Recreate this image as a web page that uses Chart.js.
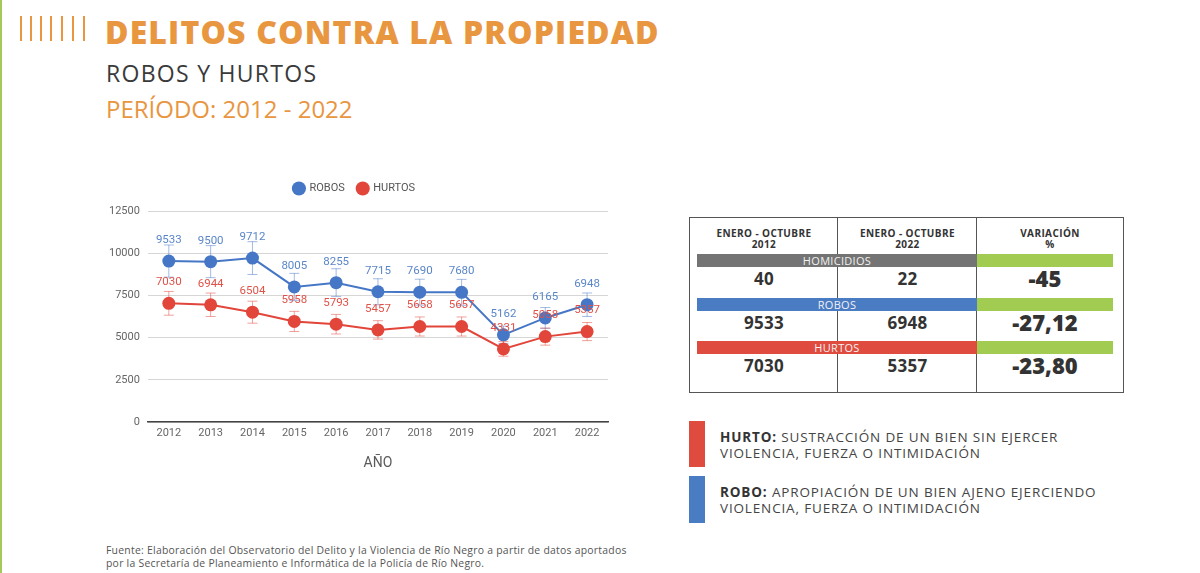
<!DOCTYPE html>
<html>
<head>
<meta charset="utf-8">
<script src="https://cdn.jsdelivr.net/npm/chart.js@4.4.0/dist/chart.umd.min.js"></script>
<style>
  html, body { margin: 0; padding: 0; background: #fff; }
  body { width: 1200px; height: 573px; position: relative; overflow: hidden; font-family: "Open Sans", sans-serif; }
  .abs { position: absolute; white-space: nowrap; }
  .edge { left: 0; top: 0; width: 2px; height: 573px; background: #a4c95a; }
  .stripe { top: 16px; width: 2px; height: 25px; background: #e8963f; }
  #title { left: 105px; top: 10px; font-size: 32px; font-weight: 800; color: #e8963f; line-height: 44px; }
  #sub { left: 106px; top: 58px; font-size: 23px; font-weight: 400; color: #3a3a3a; line-height: 30px; }
  #period { left: 106px; top: 93px; font-size: 24px; font-weight: 400; color: #e8963f; line-height: 32px; }
  #chartBox { left: 100px; top: 170px; width: 560px; height: 310px; }
  #table { left: 689px; top: 217px; width: 433px; height: 174px; border: 1px solid #555; }
  .vline { width: 1px; background: #555; }
  .th { font-size: 10px; font-weight: 700; color: #333; text-align: center; line-height: 11px; letter-spacing: 0.4px; }
  .bar { height: 13px; color: #f1f1f1; font-size: 11px; text-align: center; line-height: 13px; letter-spacing: 0.3px; }
  .val { font-size: 17px; font-weight: 700; color: #333; text-align: center; line-height: 22px; letter-spacing: 0.3px; }
  .var { font-size: 22px; font-weight: 800; color: #333; text-align: center; line-height: 26px; }
  .def { left: 720px; font-size: 13.5px; color: #444; line-height: 16px; letter-spacing: 0.85px; }
  .def b { color: #333; }
  .blk { left: 689px; width: 16px; }
  #foot { left: 106px; top: 544px; font-size: 10.4px; color: #555; line-height: 12.5px; letter-spacing: 0.26px; }
</style>
</head>
<body>
<div class="abs edge"></div>
<div id="stripes"></div>
<div id="title" class="abs">DELITOS CONTRA LA PROPIEDAD</div>
<div id="sub" class="abs">ROBOS Y HURTOS</div>
<div id="period" class="abs">PERÍODO: 2012 - 2022</div>

<div id="chartBox" class="abs"><canvas id="chart"></canvas></div>

<div id="table" class="abs"></div>

<div class="abs blk" style="top:421px;height:46px;background:#e04b40;"></div>
<div class="abs blk" style="top:476px;height:47px;background:#4a7cc4;"></div>
<div class="abs def" style="top:429px;"><b>HURTO:</b> SUSTRACCIÓN DE UN BIEN SIN EJERCER<br>VIOLENCIA, FUERZA O INTIMIDACIÓN</div>
<div class="abs def" style="top:484px;"><b>ROBO:</b> APROPIACIÓN DE UN BIEN AJENO EJERCIENDO<br>VIOLENCIA, FUERZA O INTIMIDACIÓN</div>

<div id="foot" class="abs">Fuente: Elaboración del Observatorio del Delito y la Violencia de Río Negro a partir de datos aportados<br>por la Secretaría de Planeamiento e Informática de la Policía de Río Negro.</div>

<script>
// chart data
var years = ['2012', '2013', '2014', '2015', '2016', '2017', '2018', '2019', '2020', '2021', '2022'];
var robos = [9533, 9500, 9712, 8005, 8255, 7715, 7690, 7680, 5162, 6165, 6948];
var hurtos = [7030, 6944, 6504, 5958, 5793, 5457, 5658, 5657, 4331, 5058, 5357];
var yTicks = [0, 2500, 5000, 7500, 10000, 12500];
var errorPct = 0.10; // percentage error bars

// comparison table
var tableHeads = ['ENERO - OCTUBRE\n2012', 'ENERO - OCTUBRE\n2022', 'VARIACIÓN\n%'];
var tableRows = ['HOMICIDIOS', 'ROBOS', 'HURTOS'];
var tableRowColors = ['#747474', '#4a7cc4', '#e04b40'];
var vals2012 = ['40', '9533', '7030'];
var vals2022 = ['22', '6948', '5357'];
var variacion = ['-45', '-27,12', '-23,80'];

var blue = '#4577c6';
var red = '#e2453a';

// stripes next to the title
var stripeX = [20, 30, 40, 50, 61, 72, 83];
stripeX.forEach(function (x) {
  var d = document.createElement('div');
  d.className = 'abs stripe';
  d.style.left = x + 'px';
  document.body.appendChild(d);
});

// build the table
var tb = document.getElementById('table');
function add(cls, css, html) {
  var d = document.createElement('div');
  d.className = 'abs ' + cls;
  d.style.cssText = css;
  d.innerHTML = html;
  tb.appendChild(d);
  return d;
}
var colL = [0, 148, 287];
var colW = [148, 139, 146];
add('vline', 'left:147px;top:0;height:174px;', '');
add('vline', 'left:286px;top:0;height:174px;', '');
tableHeads.forEach(function (h, i) {
  add('th', 'left:' + colL[i] + 'px;top:10px;width:' + colW[i] + 'px;', h.replace('\n', '<br>'));
});
var barTop = [36, 80, 123];
tableRows.forEach(function (r, i) {
  add('bar', 'left:7px;top:' + barTop[i] + 'px;width:280px;background:' + tableRowColors[i] + ';', r);
  add('bar', 'left:287px;top:' + barTop[i] + 'px;width:136px;background:#a2cb52;', '');
  var vt = barTop[i] + 14;
  add('val', 'left:0;top:' + vt + 'px;width:148px;', vals2012[i]);
  add('val', 'left:148px;top:' + vt + 'px;width:139px;', vals2022[i]);
  add('var', 'left:287px;top:' + (vt - 3) + 'px;width:136px;', variacion[i]);
});

// stretch text to match widths
function fit(id, w) {
  var el = document.getElementById(id);
  var n = el.textContent.length;
  el.style.letterSpacing = ((w - el.offsetWidth) / n) + 'px';
}
fit('title', 555);
fit('sub', 211);
fit('period', 247);

// extra gap under the legend
var legendSpace = {
  id: 'legendSpace',
  beforeInit: function (chart) {
    var f = chart.legend.fit;
    chart.legend.fit = function () {
      f.call(this);
      this.height += 7;
    };
  }
};

// error bars + value labels
var overlay = {
  id: 'overlay',
  beforeDatasetsDraw: function (chart) {
    var ctx = chart.ctx;
    var ys = chart.scales.y;
    ctx.save();
    chart.data.datasets.forEach(function (ds, di) {
      var meta = chart.getDatasetMeta(di);
      ctx.strokeStyle = ds.errColor;
      ctx.lineWidth = 1;
      meta.data.forEach(function (pt, i) {
        var v = ds.data[i];
        var top = ys.getPixelForValue(v * (1 + errorPct));
        var bot = ys.getPixelForValue(v * (1 - errorPct));
        ctx.beginPath();
        ctx.moveTo(pt.x, top); ctx.lineTo(pt.x, bot);
        ctx.moveTo(pt.x - 5, top); ctx.lineTo(pt.x + 5, top);
        ctx.moveTo(pt.x - 5, bot); ctx.lineTo(pt.x + 5, bot);
        ctx.stroke();
      });
    });
    ctx.restore();
  },
  afterDatasetsDraw: function (chart) {
    var ctx = chart.ctx;
    ctx.save();
    ctx.font = '11.5px Roboto';
    ctx.textAlign = 'center';
    ctx.textBaseline = 'middle';
    chart.data.datasets.forEach(function (ds, di) {
      var meta = chart.getDatasetMeta(di);
      ctx.fillStyle = ds.labelColor;
      meta.data.forEach(function (pt, i) {
        ctx.fillText(String(ds.data[i]), pt.x, pt.y - 21);
      });
    });
    ctx.restore();
  }
};

new Chart(document.getElementById('chart'), {
  type: 'line',
  data: {
    labels: years,
    datasets: [
      {
        label: 'ROBOS',
        data: robos,
        borderColor: blue,
        backgroundColor: blue,
        borderWidth: 2,
        pointRadius: 6.5,
        pointBorderWidth: 0,
        pointHoverRadius: 6.5,
        errColor: 'rgba(69,119,198,.5)',
        labelColor: '#5a86c8',
      },
      {
        label: 'HURTOS',
        data: hurtos,
        borderColor: red,
        backgroundColor: red,
        borderWidth: 2,
        pointRadius: 6.5,
        pointBorderWidth: 0,
        pointHoverRadius: 6.5,
        errColor: 'rgba(226,69,58,.5)',
        labelColor: '#e05248',
      },
    ]
  },
  options: {
    responsive: true,
    maintainAspectRatio: false,
    animation: false,
    layout: { padding: { left: 1, right: 52, top: 0, bottom: 3 } },
    plugins: {
      legend: {
        labels: {
          usePointStyle: true,
          pointStyle: 'circle',
          boxWidth: 10,
          boxHeight: 10,
          padding: 13,
          color: '#555',
          font: { family: 'Roboto', size: 11 }
        }
      },
      tooltip: { enabled: false }
    },
    scales: {
      x: {
        offset: true,
        grid: { display: false, drawTicks: false },
        border: { color: '#444', width: 1.5 },
        ticks: { color: '#666', font: { family: 'Roboto', size: 11 }, padding: 5 },
        title: { display: true, text: 'AÑO', color: '#5a5a5a', font: { family: 'Roboto', size: 14 }, padding: { top: 10, bottom: 5 } }
      },
      y: {
        min: 0,
        max: 12500,
        afterBuildTicks: function (scale) {
          scale.ticks = yTicks.map(function (v) { return { value: v }; });
        },
        grid: { color: '#d6d6d6', drawTicks: false },
        border: { display: false },
        ticks: {
          color: '#666',
          padding: 8,
          font: { family: 'Roboto', size: 11 },
          callback: function (v) { return String(v); }
        }
      }
    }
  },
  plugins: [legendSpace, overlay]
});
</script>
</body>
</html>
